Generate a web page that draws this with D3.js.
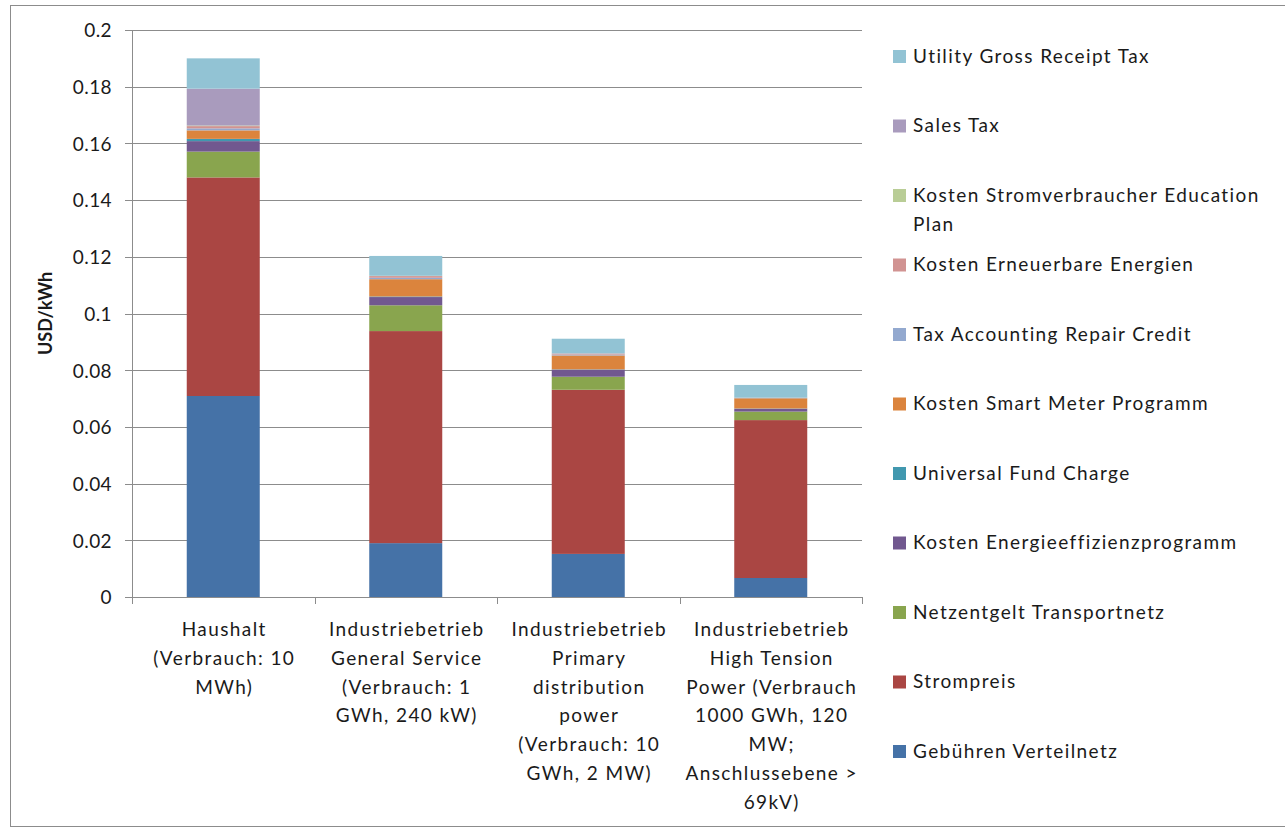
<!DOCTYPE html>
<html>
<head>
<meta charset="utf-8">
<script src="https://cdn.jsdelivr.net/npm/d3@7"></script>
<style>
  html, body { margin: 0; padding: 0; background: #fff; }
  svg text { font-family: "Lato", "Open Sans", sans-serif; fill: #1a1a1a; }
  .spaced { letter-spacing: 1.4px; }
</style>
</head>
<body>
<svg id="chart" width="1285" height="829"></svg>
<script>
// ---- Data ----
const categories = ["Haushalt", "General Service", "Primary distribution", "High Tension"];
const categoryLabels = [
  ["Haushalt", "(Verbrauch: 10", "MWh)"],
  ["Industriebetrieb", "General Service", "(Verbrauch: 1", "GWh, 240 kW)"],
  ["Industriebetrieb", "Primary", "distribution", "power", "(Verbrauch: 10", "GWh, 2 MW)"],
  ["Industriebetrieb", "High Tension", "Power (Verbrauch", "1000 GWh, 120", "MW;", "Anschlussebene >", "69kV)"]
];
// series, bottom to top
const seriesNames = [
  "Gebühren Verteilnetz",
  "Strompreis",
  "Netzentgelt Transportnetz",
  "Kosten Energieeffizienzprogramm",
  "Universal Fund Charge",
  "Kosten Smart Meter Programm",
  "Tax Accounting Repair Credit",
  "Kosten Erneuerbare Energien",
  "Kosten Stromverbraucher Education Plan",
  "Sales Tax",
  "Utility Gross Receipt Tax"
];
const gebuehrenVerteilnetz   = [0.0709, 0.0190, 0.0152, 0.0067];
const strompreis             = [0.0771, 0.0748, 0.0579, 0.0557];
const netzentgelt            = [0.0091, 0.0091, 0.0046, 0.0030];
const energieeffizienz       = [0.0037, 0.0029, 0.0025, 0.0010];
const universalFund          = [0.0008, 0.0002, 0.0001, 0.0001];
const smartMeter             = [0.0030, 0.0061, 0.0049, 0.0036];
const taxAccounting          = [0.0007, 0.0005, 0.0003, 0.0001];
const erneuerbare            = [0.0008, 0.0006, 0.0004, 0.0001];
const education              = [0.0002, 0.0001, 0.0000, 0.0000];
const salesTax               = [0.0130, 0.0000, 0.0000, 0.0000];
const utilityGrossReceipt    = [0.0107, 0.0070, 0.0052, 0.0045];
const seriesValues = [gebuehrenVerteilnetz, strompreis, netzentgelt, energieeffizienz,
  universalFund, smartMeter, taxAccounting, erneuerbare, education, salesTax, utilityGrossReceipt];
const seriesColors = ["#4572A7", "#AA4643", "#89A54E", "#71588F", "#4198AF", "#DB843D",
  "#93A9CF", "#D19392", "#B9CD96", "#A99BBD", "#92C3D4"];
const yTicks = [0, 0.02, 0.04, 0.06, 0.08, 0.1, 0.12, 0.14, 0.16, 0.18, 0.2];
const yTickLabels = ["0", "0.02", "0.04", "0.06", "0.08", "0.1", "0.12", "0.14", "0.16", "0.18", "0.2"];
const yTitle = "USD/kWh";

// ---- Build table ----
const table = categories.map((c, i) => {
  const row = { category: c };
  seriesNames.forEach((s, j) => row[s] = seriesValues[j][i]);
  return row;
});

const svg = d3.select("#chart");
// outer border
svg.append("rect").attr("x", 10.5).attr("y", 5.5).attr("width", 1290).attr("height", 821)
  .attr("fill", "none").attr("stroke", "#8c8c8c").attr("stroke-width", 1);

const plot = { left: 132, right: 862, top: 30, bottom: 597 };
const x = d3.scaleBand().domain(categories).range([plot.left, plot.right]).paddingInner(0).paddingOuter(0);
const y = d3.scaleLinear().domain([0, 0.2]).range([plot.bottom, plot.top]);
const barW = x.bandwidth() * 0.4;

// gridlines
const g = svg.append("g");
g.append("g").attr("transform", `translate(${plot.left},0)`)
  .call(d3.axisLeft(y).tickValues(yTicks).tickSize(-(plot.right - plot.left)).tickFormat(""))
  .call(s => s.select(".domain").remove())
  .call(s => s.selectAll("line").attr("stroke", "#8c8c8c").attr("shape-rendering", "crispEdges"));

// y axis
const yAxis = g.append("g").attr("transform", `translate(${plot.left},0)`)
  .call(d3.axisLeft(y).tickValues(yTicks).tickSize(7).tickPadding(13)
    .tickFormat((d, i) => yTickLabels[i]));
yAxis.select(".domain").attr("stroke", "#8c8c8c").attr("shape-rendering", "crispEdges");
yAxis.selectAll("line").attr("stroke", "#8c8c8c").attr("shape-rendering", "crispEdges");
yAxis.selectAll("text").attr("font-size", 19).attr("fill", "#1a1a1a")
  .style("font-family", "Lato, 'Open Sans', sans-serif").style("letter-spacing", "0.4px").attr("dy", "0.36em");

// y title
svg.append("text").attr("transform", `translate(52,${(plot.top + plot.bottom) / 2}) rotate(-90)`)
  .attr("text-anchor", "middle").attr("font-size", 18).attr("font-weight", "bold").text(yTitle);

// stacked bars
const stack = d3.stack().keys(seriesNames);
const stacked = stack(table);
svg.append("g").selectAll("g").data(stacked).join("g")
  .attr("fill", (d, i) => seriesColors[i])
  .selectAll("rect").data(d => d).join("rect")
  .attr("x", d => x(d.data.category) + (x.bandwidth() - barW) / 2)
  .attr("width", barW)
  .attr("y", d => y(d[1]))
  .attr("height", d => Math.max(0, y(d[0]) - y(d[1])));

// x axis
const xAxis = svg.append("g").attr("transform", `translate(0,${plot.bottom})`);
xAxis.append("line").attr("x1", plot.left).attr("x2", plot.right).attr("y1", 0.5).attr("y2", 0.5)
  .attr("stroke", "#8c8c8c");
const bounds = categories.map(c => x(c)).concat([plot.right]);
xAxis.selectAll("line.tk").data(bounds).join("line").attr("class", "tk")
  .attr("x1", d => Math.round(d) + 0.5).attr("x2", d => Math.round(d) + 0.5)
  .attr("y1", 0).attr("y2", 7).attr("stroke", "#8c8c8c");
const lineH = 28.8;
categories.forEach((c, i) => {
  const cx = x(c) + x.bandwidth() / 2 + 1;
  const t = xAxis.append("text").attr("class", "spaced").attr("text-anchor", "middle").attr("font-size", 19)
    .attr("x", cx).attr("y", 39);
  categoryLabels[i].forEach((line, k) => {
    t.append("tspan").attr("x", cx).attr("y", 39 + k * lineH).text(line);
  });
});

// legend (top to bottom: reverse order)
const legendItems = [
  { idx: 10, lines: ["Utility Gross Receipt Tax"] },
  { idx: 9, lines: ["Sales Tax"] },
  { idx: 8, lines: ["Kosten Stromverbraucher Education", "Plan"] },
  { idx: 7, lines: ["Kosten Erneuerbare Energien"] },
  { idx: 6, lines: ["Tax Accounting Repair Credit"] },
  { idx: 5, lines: ["Kosten Smart Meter Programm"] },
  { idx: 4, lines: ["Universal Fund Charge"] },
  { idx: 3, lines: ["Kosten Energieeffizienzprogramm"] },
  { idx: 2, lines: ["Netzentgelt Transportnetz"] },
  { idx: 1, lines: ["Strompreis"] },
  { idx: 0, lines: ["Gebühren Verteilnetz"] }
];
const legend = svg.append("g");
const ly = d3.scalePoint().domain(d3.range(legendItems.length)).range([56, 751]);
legendItems.forEach((it, i) => {
  const cy = ly(i);
  legend.append("rect").attr("x", 893).attr("y", cy - 6).attr("width", 13).attr("height", 13)
    .attr("fill", seriesColors[it.idx]);
  const t = legend.append("text").attr("class", "spaced").attr("font-size", 19).attr("x", 913).attr("y", cy).attr("dy", "0.35em");
  it.lines.forEach((l, k) => t.append("tspan").attr("x", 913).attr("y", cy + k * 29).attr("dy", "0.35em").text(l));
});
</script>
</body>
</html>
